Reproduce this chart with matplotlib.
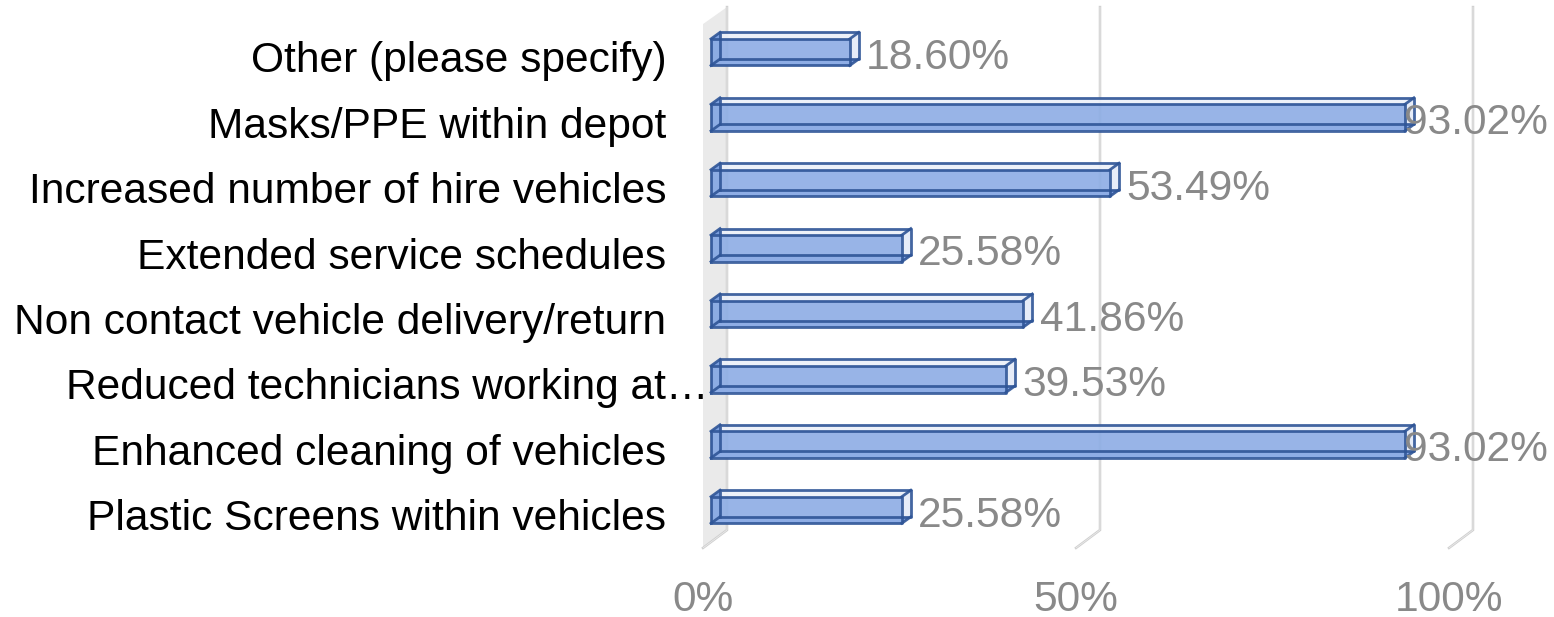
import matplotlib
matplotlib.use("Agg")
import matplotlib.pyplot as plt
from matplotlib.patches import Polygon

plt.rcParams['font.family'] = ['Liberation Sans', 'DejaVu Sans']

# Datos, de abajo hacia arriba
categorias = ["Plastic Screens within vehicles", "Enhanced cleaning of vehicles",
              "Reduced technicians working at…", "Non contact vehicle delivery/return",
              "Extended service schedules", "Increased number of hire vehicles",
              "Masks/PPE within depot", "Other (please specify)"]
valores = [25.58, 93.02, 39.53, 41.86, 25.58, 53.49, 93.02, 18.60]
ticks = [0, 50, 100]

# Escalas
k = 7.46     # px por unidad en x
paso = 65.4  # px por categoria
dx = 9 / k
dy = 6.5 / paso
h = 13.3 / paso
bx = 16 / k    # pared del fondo
fx = -8 / k    # borde delantero del suelo
y_top = 7.69
y_bot = -0.306
y_suelo = -0.58
y_top_f = 7.43

borde = "#2F5597"
gris = "#898989"
fs = 30.6

fig = plt.figure(figsize=(15.54, 6.17), dpi=100)
ax = fig.add_axes([0, 0, 1, 1])
ax.set_xlim(-711 / k, (1554 - 711) / k)
ax.set_ylim((510 - 617) / paso, 510 / paso)
ax.axis("off")

# Pared lateral
ax.add_patch(Polygon([(fx, y_top_f), (bx, y_top), (bx, y_bot), (fx, y_suelo)],
                     fc="#EAEAEA", ec="none", zorder=1))

# Lineas de rejilla con su tramo de suelo
for t in ticks:
    ax.plot([t + fx, t + bx, t + bx], [y_suelo, y_bot, y_top], color="#CFCFCF",
            lw=1.8, zorder=2, solid_joinstyle="miter")
    ax.plot([t + fx, t + bx, t + bx], [y_suelo, y_bot, y_top], color="#EDEDED",
            lw=0.5, zorder=2, solid_joinstyle="miter")
    ax.text(t + fx, -1.37, f"{t}%", ha="center", va="center", fontsize=fs, color=gris, zorder=6)


def cara(puntos, color, alpha):
    ax.add_patch(Polygon(puntos, fc=color, alpha=alpha, ec="none", zorder=3))


# Barras en falso 3D
for i, v in enumerate(valores):
    y0, y1 = i - h, i + h
    cara([(dx, y0 + dy), (v + dx, y0 + dy), (v + dx, y1 + dy), (dx, y1 + dy)], "#8FAEE5", 0.2)
    cara([(0, y1), (v, y1), (v + dx, y1 + dy), (dx, y1 + dy)], "#EEF2FA", 0.9)
    cara([(v, y0), (v, y1), (v + dx, y1 + dy), (v + dx, y0 + dy)], "#E6ECF8", 0.9)
    cara([(0, y0), (v, y0), (v + dx, y0 + dy), (dx, y0 + dy)], "#86A8E6", 0.95)
    cara([(0, y0), (dx, y0 + dy), (dx, y1 + dy), (0, y1)], "#5F8AD6", 0.8)
    cara([(0, y0), (v, y0), (v, y1), (0, y1)], "#8FAEE5", 0.9)
    # aristas
    for xs, ys in [([0, v, v, 0, 0], [y0, y0, y1, y1, y0]),
                   ([dx, v + dx, v + dx, dx, dx], [y0 + dy, y0 + dy, y1 + dy, y1 + dy, y0 + dy]),
                   ([0, dx], [y0, y0 + dy]), ([0, dx], [y1, y1 + dy]),
                   ([v, v + dx], [y0, y0 + dy]), ([v, v + dx], [y1, y1 + dy])]:
        ax.plot(xs, ys, color=borde, lw=2.0, alpha=0.9, zorder=4, solid_joinstyle="round")

    # Etiquetas
    ax.text(min(v + 2.2, 92.9), i - 0.09, f"{v:.2f}%", ha="left", va="center",
            fontsize=fs, color=gris, zorder=6)
    xlab = -0.4 if categorias[i].endswith("…") else -6
    ax.text(xlab, i - 0.14, categorias[i], ha="right", va="center", fontsize=fs,
            color="black", zorder=6)

fig.savefig("out.png", dpi=100)
